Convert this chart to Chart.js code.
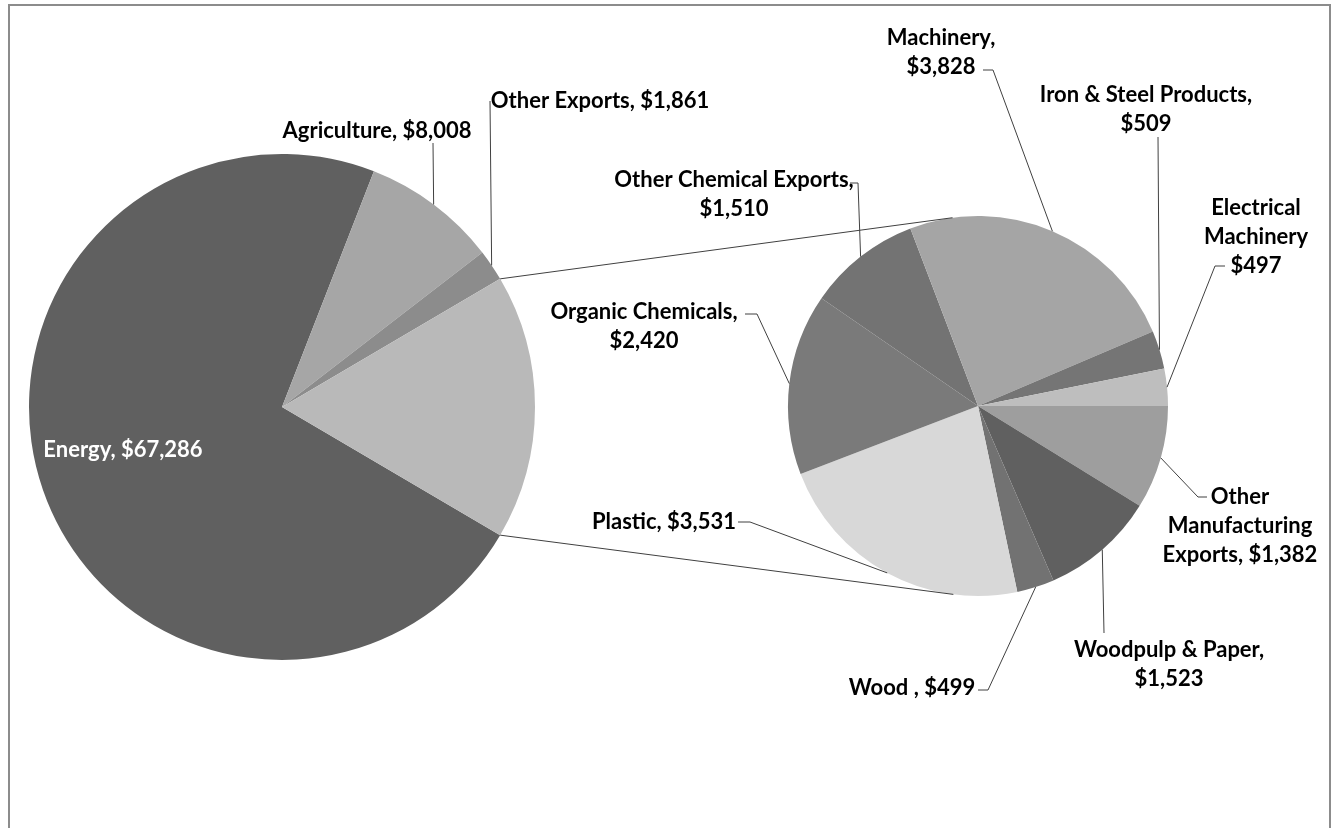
<!DOCTYPE html>
<html>
<head>
<meta charset="utf-8">
<script src="https://cdn.jsdelivr.net/npm/chart.js@4.4.0/dist/chart.umd.min.js"></script>
<style>
body { margin: 0; background: #fff; }
#wrap { position: relative; width: 1333px; height: 828px; overflow: hidden; }
#wrap canvas { position: absolute; left: 0; top: 0; }
#frame { position: absolute; left: 8px; top: 4px; width: 1319px; height: 840px; border: 2px solid #8c8c8c; }
</style>
</head>
<body>
<div id="wrap">
  <div id="frame"></div>
  <canvas id="mainPie" width="1333" height="828"></canvas>
  <canvas id="subPie" width="1333" height="828"></canvas>
</div>
<script>
// Main pie (last slice = everything split out into the second pie)
var mainNames = ['Energy', 'Agriculture', 'Other Exports'];
var mainValues = [67286, 8008, 1861];
var mainColors = ['#606060', '#a6a6a6', '#8c8c8c', '#b9b9b9'];

// Second pie: manufacturing breakdown
var subNames = ['Other Manufacturing Exports', 'Woodpulp & Paper', 'Wood ', 'Plastic', 'Organic Chemicals',
                'Other Chemical Exports', 'Machinery', 'Iron & Steel Products', 'Electrical Machinery'];
var subValues = [1382, 1523, 499, 3531, 2420, 1510, 3828, 509, 497];
var subColors = ['#9e9e9e', '#606060', '#727272', '#d8d8d8', '#7a7a7a', '#737373', '#a5a5a5', '#757575', '#bebebe'];

var subTotal = subValues.reduce(function(a, b) { return a + b; }, 0);
var mainAll = mainValues.concat([subTotal]);
var mainTotal = mainAll.reduce(function(a, b) { return a + b; }, 0);

function fmt(v) { return '$' + v.toLocaleString('en-US'); }

// label placement, {v} is replaced by the slice value
var mainLabels = [
    { index: 0, x: 123, y: 450, text: ['Energy, {v}'], color: '#ffffff' },
    { index: 1, x: 377, y: 131, text: ['Agriculture, {v}'], leader: [[433, 143]] },
    { index: 2, x: 600, y: 101, text: ['Other Exports, {v}'], leader: [[490, 101]] }
];
var subLabels = [
    { index: 0, x: 1240, y: 497, text: ['Other', 'Manufacturing', 'Exports, {v}'], leader: [[1207, 497], [1198, 497]] },
    { index: 1, x: 1169, y: 650, text: ['Woodpulp & Paper,', '{v}'], leader: [[1104, 633]] },
    { index: 2, x: 912, y: 688, text: ['Wood , {v}'], leader: [[978, 690], [988, 690]] },
    { index: 3, x: 664, y: 522, text: ['Plastic, {v}'], leader: [[738, 522], [750, 522]] },
    { index: 4, x: 644, y: 312, text: ['Organic Chemicals,', '{v}'], leader: [[745, 314], [757, 314]] },
    { index: 5, x: 734, y: 180, text: ['Other Chemical Exports,', '{v}'], leader: [[850, 183], [858, 183]] },
    { index: 6, x: 941, y: 38, text: ['Machinery,', '{v}'], leader: [[983, 70], [993, 70]] },
    { index: 7, x: 1146, y: 95, text: ['Iron & Steel Products,', '{v}'], leader: [[1158, 137]] },
    { index: 8, x: 1256, y: 208, text: ['Electrical', 'Machinery', '{v}'], leader: [[1225, 266], [1215, 266]] }
];

function makeLabelPlugin(items) {
    return {
        id: 'sliceLabels',
        afterDatasetsDraw: function(chart) {
            var ctx = chart.ctx;
            var arcs = chart.getDatasetMeta(0).data;
            var vals = chart.data.datasets[0].data;
            ctx.save();
            items.forEach(function(item) {
                var arc = arcs[item.index];
                if (item.leader) {
                    var a = (arc.startAngle + arc.endAngle) / 2;
                    ctx.beginPath();
                    ctx.moveTo(item.leader[0][0], item.leader[0][1]);
                    item.leader.slice(1).forEach(function(p) { ctx.lineTo(p[0], p[1]); });
                    ctx.lineTo(arc.x + Math.cos(a) * arc.outerRadius, arc.y + Math.sin(a) * arc.outerRadius);
                    ctx.strokeStyle = '#404040';
                    ctx.lineWidth = 1;
                    ctx.stroke();
                }
                ctx.font = 'bold 22px Lato';
                ctx.textAlign = 'center';
                ctx.textBaseline = 'middle';
                ctx.fillStyle = item.color || '#000000';
                item.text.forEach(function(s, i) {
                    ctx.fillText(s.replace('{v}', fmt(vals[item.index])), item.x, item.y + i * 29);
                });
            });
            ctx.restore();
        }
    };
}

// lines from the split-out slice to the tangents of the second pie
var connectorPlugin = {
    id: 'connectors',
    afterDatasetsDraw: function(chart) {
        var big = mainChart.getDatasetMeta(0).data[3];
        var small = chart.getDatasetMeta(0).data[0];
        var cx = small.x, cy = small.y, r = small.outerRadius;
        var ctx = chart.ctx;
        [[big.startAngle, 1], [big.endAngle, -1]].forEach(function(e) {
            var px = big.x + Math.cos(e[0]) * big.outerRadius;
            var py = big.y + Math.sin(e[0]) * big.outerRadius;
            var d = Math.hypot(px - cx, py - cy);
            var t = Math.atan2(py - cy, px - cx) + e[1] * Math.acos(r / d);
            ctx.save();
            ctx.beginPath();
            ctx.moveTo(px, py);
            ctx.lineTo(cx + Math.cos(t) * r, cy + Math.sin(t) * r);
            ctx.strokeStyle = '#404040';
            ctx.lineWidth = 1;
            ctx.stroke();
            ctx.restore();
        });
    }
};

function pieOptions(rotation, pad) {
    return {
        responsive: false,
        animation: false,
        events: [],
        rotation: rotation,
        layout: { padding: pad },
        plugins: { legend: { display: false }, tooltip: { enabled: false } }
    };
}

// center split slice on the right side
var splitShare = subTotal / mainTotal;
var mainChart = new Chart(document.getElementById('mainPie').getContext('2d'), {
    type: 'pie',
    data: {
        labels: mainNames.concat(['Manufacturing']),
        datasets: [{ data: mainAll, backgroundColor: mainColors, borderWidth: 0, hoverOffset: 0 }]
    },
    options: pieOptions(90 + splitShare * 180, { left: 29, top: 154, right: 798, bottom: 168 }),
    plugins: [makeLabelPlugin(mainLabels)]
});

var subChart = new Chart(document.getElementById('subPie').getContext('2d'), {
    type: 'pie',
    data: {
        labels: subNames,
        datasets: [{ data: subValues, backgroundColor: subColors, borderWidth: 0, hoverOffset: 0 }]
    },
    options: pieOptions(90, { left: 788, top: 216, right: 165, bottom: 232 }),
    plugins: [connectorPlugin, makeLabelPlugin(subLabels)]
});
</script>
</body>
</html>
